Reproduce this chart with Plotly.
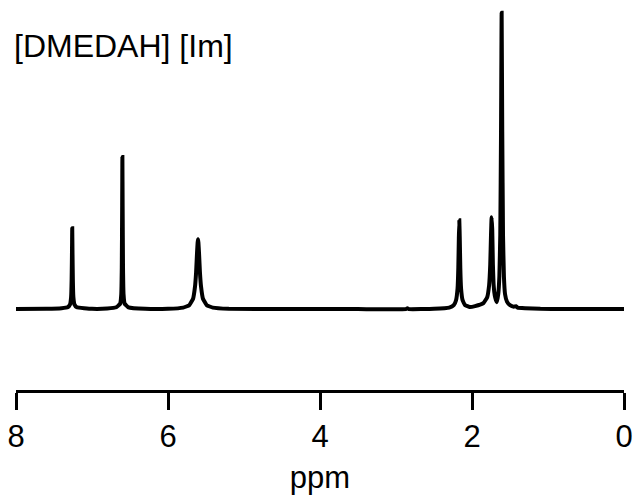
import plotly.graph_objects as go

# Traced spectrum points (chemical shift in ppm, relative intensity)
ppm = [8.00, 7.60, 7.40, 7.32, 7.29, 7.275, 7.268, 7.263, 7.260, 7.257, 7.252, 7.245, 7.23, 7.20, 7.00,
       6.80, 6.68, 6.63, 6.615, 6.608, 6.603, 6.600, 6.597, 6.592, 6.585, 6.57, 6.52, 6.30,
       6.00, 5.80, 5.72, 5.67, 5.645, 5.63, 5.618, 5.61, 5.605, 5.60, 5.592, 5.58, 5.565, 5.54, 5.49, 5.41, 5.20,
       4.50, 3.50, 2.87, 2.85, 2.83, 2.50,
       2.30, 2.24, 2.21, 2.19, 2.18, 2.173, 2.167, 2.161, 2.154, 2.144, 2.124, 2.09, 2.03,
       1.96, 1.85, 1.80, 1.775, 1.76, 1.75, 1.742, 1.734, 1.725, 1.715, 1.70, 1.685, 1.675,
       1.655, 1.64, 1.628, 1.618, 1.610, 1.602, 1.592, 1.58, 1.565, 1.54, 1.50, 1.45, 1.42, 1.40,
       1.30, 1.10, 0.80, 0.40, 0.00]
intensity = [0.0, 0.1, 0.3, 0.6, 1.5, 4.0, 10.0, 20.0, 27.3, 20.0, 10.0, 4.0, 1.5, 0.6, 0.1,
             0.2, 0.6, 1.8, 5.0, 14.0, 35.0, 51.3, 35.0, 14.0, 5.0, 1.8, 0.6, 0.1,
             0.1, 0.5, 1.3, 3.5, 7.5, 12.5, 19.0, 22.5, 23.6, 22.5, 19.0, 12.5, 7.5, 3.5, 1.3, 0.5, 0.1,
             0.0, 0.0, 0.0, 0.3, 0.0, 0.1,
             0.5, 1.3, 3.0, 7.0, 14.0, 24.0, 30.0, 24.0, 14.0, 7.0, 3.0, 1.3, 0.7,
             1.0, 2.0, 4.0, 8.0, 15.0, 25.0, 31.0, 27.0, 15.0, 8.0, 4.5, 3.0, 2.3,
             5.0, 11.0, 25.0, 60.0, 100.0, 60.0, 25.0, 11.0, 5.0, 2.5, 1.3, 0.8, 1.0, 0.5,
             0.3, 0.1, 0.0, 0.0, 0.0]

tick_vals = [8, 6, 4, 2, 0]
tick_text = ["8", "6", "4", "2", "0"]
sample_label = "[DMEDAH] [Im]"
x_title = "ppm"

FONT = "Liberation Sans, Arial, sans-serif"

L, R, T, B = 16, 12, 10, 107
plot_w = 636 - L - R
plot_h = 497 - T - B

fig = go.Figure()
fig.add_trace(go.Scatter(
    x=ppm, y=intensity, mode="lines",
    line=dict(color="black", width=4, shape="spline", smoothing=0.3),
    hoverinfo="skip", showlegend=False,
))

fig.update_layout(
    width=636, height=497,
    margin=dict(l=L, r=R, t=T, b=B, pad=0, autoexpand=False),
    paper_bgcolor="white", plot_bgcolor="white",
    font=dict(family=FONT, color="black", size=31),
    xaxis=dict(
        range=[8, 0], showgrid=False, zeroline=False, automargin=False,
        showline=True, linecolor="black", linewidth=3,
        ticks="outside", ticklen=17, tickwidth=3, tickcolor="black",
        tickvals=tick_vals, ticktext=tick_text,
        tickfont=dict(family=FONT, size=31, color="black"),
        title=dict(text=x_title, font=dict(family=FONT, size=31, color="black"), standoff=14),
    ),
    yaxis=dict(range=[-27.3, 100.9], visible=False, showgrid=False, zeroline=False, automargin=False),
    annotations=[dict(
        text=sample_label, xref="paper", yref="paper",
        x=(12 - L) / plot_w, xanchor="left",
        y=(497 - B - 46) / plot_h, yanchor="middle",
        showarrow=False, font=dict(family=FONT, size=32, color="black"),
    )],
)

fig.write_html(
    "out.html",
    config={"displayModeBar": False, "staticPlot": True},
    post_script="document.body.style.margin='0';document.body.style.overflow='hidden';",
)
